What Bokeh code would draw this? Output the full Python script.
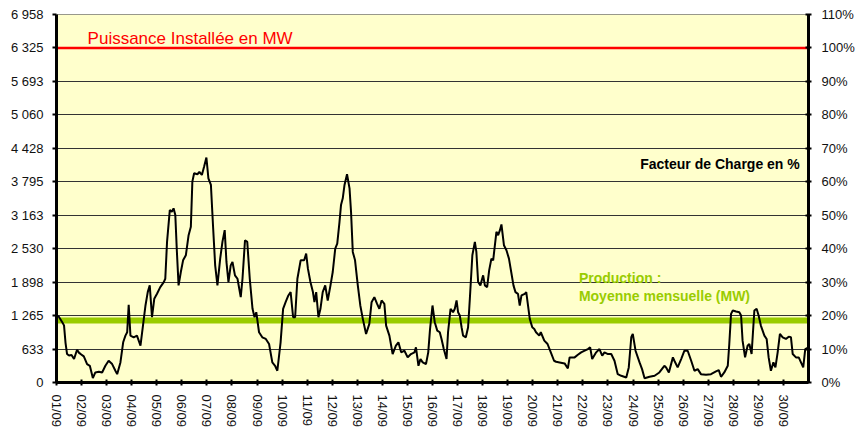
from bokeh.plotting import figure
from bokeh.models import Range1d, LinearAxis, FixedTicker, Span, Label
from bokeh.embed import file_html
from bokeh.resources import INLINE

# ---------------- data ----------------
PUISSANCE_INSTALLEE = 6325      # MW (100 %)
MOYENNE_MENSUELLE = 1170        # MW

JOURS = ["01/09", "02/09", "03/09", "04/09", "05/09", "06/09", "07/09", "08/09",
         "09/09", "10/09", "11/09", "12/09", "13/09", "14/09", "15/09", "16/09",
         "17/09", "18/09", "19/09", "20/09", "21/09", "22/09", "23/09", "24/09",
         "25/09", "26/09", "27/09", "28/09", "29/09", "30/09"]

MW_TICK_LABELS = ["0", "633", "1 265", "1 898", "2 530", "3 163", "3 795",
                  "4 428", "5 060", "5 693", "6 325", "6 958"]
PCT_TICK_LABELS = ["0%", "10%", "20%", "30%", "40%", "50%", "60%", "70%",
                   "80%", "90%", "100%", "110%"]

# time in days since 01/09 00:00
temps = [0.00, 0.10, 0.23, 0.30, 0.36, 0.42, 0.50, 0.60, 0.70, 0.82, 0.90, 0.96,
         1.09, 1.22, 1.33, 1.45, 1.55, 1.69, 1.82, 1.95, 2.08, 2.22, 2.35, 2.42,
         2.55, 2.66, 2.75, 2.82, 2.88, 2.95, 3.08, 3.21, 3.35, 3.45, 3.55, 3.64,
         3.72, 3.81, 3.90, 4.01, 4.14, 4.28, 4.34, 4.41, 4.52, 4.60, 4.67, 4.74,
         4.80, 4.87, 4.96, 5.05, 5.16, 5.27, 5.36, 5.42, 5.49, 5.62, 5.70, 5.80,
         5.89, 5.98, 6.06, 6.16, 6.25, 6.33, 6.42, 6.53, 6.62, 6.71, 6.78, 6.86,
         6.95, 7.02, 7.12, 7.22, 7.35, 7.42, 7.52, 7.61, 7.71, 7.82, 7.90, 7.97,
         8.08, 8.21, 8.35, 8.48, 8.61, 8.72, 8.81, 8.94, 9.04, 9.14, 9.25, 9.34,
         9.44, 9.52, 9.61, 9.74, 9.88, 9.96, 10.03, 10.13, 10.23, 10.29, 10.36, 10.45,
         10.53, 10.62, 10.72, 10.82, 10.93, 11.02, 11.12, 11.20, 11.29, 11.35, 11.42, 11.49,
         11.59, 11.69, 11.75, 11.82, 11.91, 12.02, 12.12, 12.22, 12.35, 12.48, 12.57, 12.68,
         12.79, 12.88, 12.97, 13.08, 13.15, 13.28, 13.41, 13.54, 13.64, 13.75, 13.88, 14.01,
         14.14, 14.28, 14.34, 14.44, 14.52, 14.61, 14.74, 14.83, 14.90, 15.00, 15.09, 15.19,
         15.29, 15.36, 15.45, 15.56, 15.62, 15.72, 15.82, 15.89, 15.96, 16.02, 16.09, 16.16,
         16.22, 16.33, 16.42, 16.49, 16.59, 16.69, 16.75, 16.82, 16.91, 17.02, 17.09, 17.18,
         17.26, 17.35, 17.42, 17.55, 17.62, 17.69, 17.75, 17.85, 17.95, 18.05, 18.14, 18.23,
         18.31, 18.41, 18.48, 18.55, 18.68, 18.74, 18.81, 18.88, 18.98, 19.06, 19.13, 19.26,
         19.32, 19.46, 19.59, 19.72, 19.85, 19.93, 20.07, 20.27, 20.40, 20.47, 20.67, 20.80,
         20.93, 21.07, 21.20, 21.29, 21.37, 21.53, 21.66, 21.77, 21.86, 22.00, 22.13, 22.26,
         22.39, 22.53, 22.73, 22.83, 22.93, 22.99, 23.10, 23.26, 23.36, 23.46, 23.66, 23.86,
         24.05, 24.25, 24.32, 24.43, 24.59, 24.65, 24.78, 24.92, 25.05, 25.18, 25.32, 25.45,
         25.58, 25.71, 25.91, 26.11, 26.31, 26.42, 26.51, 26.64, 26.78, 26.84, 26.91, 26.98,
         27.11, 27.24, 27.31, 27.37, 27.47, 27.57, 27.64, 27.73, 27.84, 27.93, 28.01, 28.10,
         28.24, 28.33, 28.41, 28.50, 28.60, 28.68, 28.77, 28.86, 28.97, 29.10, 29.21, 29.30,
         29.37, 29.50, 29.61, 29.70, 29.79, 29.87, 30.00]

production = [1270, 1240, 1140, 1080, 750, 540, 510, 520, 443, 620, 560, 540,
              494, 348, 316, 85, 190, 203, 190, 316, 411, 348, 222, 158,
              380, 760, 886, 950, 1469, 886, 855, 886, 696, 1076, 1456, 1709,
              1836, 1234, 1583, 1677, 1804, 1899, 1962, 2659, 3260, 3230, 3292, 3165,
              2500, 1836, 2089, 2310, 2405, 2785, 2943, 3798, 3956, 3937, 3980, 3924,
              4083, 4254, 3861, 3735, 2912, 2215, 1836, 2342, 2659, 2880, 2279, 1899,
              2215, 2279, 2026, 1962, 1614, 1962, 2690, 2659, 1962, 1393, 1234, 1329,
              950, 855, 823, 728, 380, 316, 222, 760, 1393, 1519, 1646, 1709,
              1234, 1234, 1962, 2310, 2310, 2437, 2152, 1899, 1709, 1519, 1709, 1234,
              1393, 1709, 1836, 1551, 1836, 2089, 2532, 2627, 3038, 3355, 3482, 3735,
              3937, 3671, 3228, 2469, 2310, 1836, 1456, 1203, 918, 1108, 1519, 1614,
              1488, 1393, 1551, 1488, 1076, 886, 538, 696, 760, 570, 601, 475,
              538, 570, 665, 316, 443, 380, 348, 570, 1000, 1456, 1139, 981,
              950, 823, 633, 443, 950, 1393, 1329, 1393, 1551, 1329, 1266, 1045,
              886, 855, 1045, 1583, 2405, 2659, 2469, 1899, 1836, 2026, 1836, 1804,
              2121, 2342, 2310, 2849, 2785, 2880, 2988, 2595, 2500, 2342, 2089, 1836,
              1709, 1677, 1456, 1646, 1677, 1709, 1456, 1203, 1045, 1013, 950, 886,
              950, 791, 728, 570, 411, 392, 380, 361, 266, 475, 475, 525,
              570, 601, 633, 665, 443, 570, 633, 506, 570, 538, 538, 411,
              158, 127, 95, 285, 855, 918, 601, 380, 253, 82, 108, 127,
              190, 316, 285, 190, 475, 411, 285, 443, 601, 601, 411, 222,
              253, 158, 146, 158, 209, 234, 108, 190, 316, 728, 1298, 1361,
              1342, 1329, 1266, 791, 475, 696, 728, 538, 1361, 1393, 1266, 1076,
              886, 823, 475, 222, 380, 285, 570, 918, 855, 823, 867, 855,
              538, 475, 475, 380, 285, 633, 665]

FONT = "Liberation Sans"

# ---------------- figure ----------------
y_max = PUISSANCE_INSTALLEE * 1.1
p = figure(width=857, height=434, output_backend="svg", toolbar_location=None,
           x_range=Range1d(0, len(JOURS)), y_range=Range1d(0, y_max),
           min_border_left=56, min_border_right=49, min_border_top=14,
           min_border_bottom=52, background_fill_color="#FFFFCC",
           border_fill_color="white", outline_line_color=None)

mw_ticks = [PUISSANCE_INSTALLEE * i / 10 for i in range(len(MW_TICK_LABELS))]
p.yaxis.ticker = FixedTicker(ticks=mw_ticks)
p.yaxis.major_label_overrides = {t: lab for t, lab in zip(mw_ticks, MW_TICK_LABELS)}
p.ygrid.ticker = FixedTicker(ticks=mw_ticks)
p.ygrid.grid_line_color = "#333333"
p.ygrid.grid_line_width = 1
p.xgrid.grid_line_color = None

day_ticks = list(range(len(JOURS)))
p.xaxis.ticker = FixedTicker(ticks=day_ticks)
p.xaxis.major_label_overrides = {d: lab for d, lab in zip(day_ticks, JOURS)}
p.xaxis.major_label_orientation = "vertical"

p.extra_y_ranges = {"pct": Range1d(0, 110)}
pct_ticks = [10 * i for i in range(len(PCT_TICK_LABELS))]
right = LinearAxis(y_range_name="pct", ticker=FixedTicker(ticks=pct_ticks))
right.major_label_overrides = {t: lab for t, lab in zip(pct_ticks, PCT_TICK_LABELS)}
p.add_layout(right, "right")

for ax in (p.xaxis[0], p.yaxis[0], right):
    ax.axis_line_width = 3
    ax.axis_line_color = "black"
    ax.major_tick_line_width = 2
    ax.major_tick_line_color = "black"
    ax.minor_tick_line_color = None
    ax.major_label_text_font = FONT
    ax.major_label_text_font_size = "13px"
    ax.major_label_text_color = "#111111"

p.yaxis[0].major_tick_in = 0
p.yaxis[0].major_tick_out = 4
p.yaxis[0].major_label_standoff = 9
right.major_tick_in = 3
right.major_tick_out = 3
right.major_label_standoff = 10
p.xaxis[0].major_tick_in = 3
p.xaxis[0].major_tick_out = 3
p.xaxis[0].major_label_standoff = 9

# reference lines
p.add_layout(Span(location=PUISSANCE_INSTALLEE, dimension="width",
                  line_color="#FF0000", line_width=2.5, level="underlay"))
p.add_layout(Span(location=MOYENNE_MENSUELLE, dimension="width",
                  line_color="#99CC00", line_width=6, level="underlay"))

# production series
p.line(temps, production, line_color="black", line_width=2)

# annotations
p.add_layout(Label(x=1.24, y=6512, text="Puissance Installée en MW",
                   text_color="#FF0000", text_font=FONT, text_font_size="17px",
                   text_baseline="alphabetic"))
p.add_layout(Label(x=29.65, y=4135, text="Facteur de Charge en %",
                   text_color="black", text_font=FONT, text_font_size="14px",
                   text_font_style="bold", text_align="right",
                   text_baseline="alphabetic"))
p.add_layout(Label(x=20.84, y=1974, text="Production :",
                   text_color="#99CC00", text_font=FONT, text_font_size="14px",
                   text_font_style="bold", text_baseline="alphabetic"))
p.add_layout(Label(x=20.84, y=1639, text="Moyenne mensuelle (MW)",
                   text_color="#99CC00", text_font=FONT, text_font_size="14px",
                   text_font_style="bold", text_baseline="alphabetic"))

open("out.html", "w").write(file_html(p, INLINE))
